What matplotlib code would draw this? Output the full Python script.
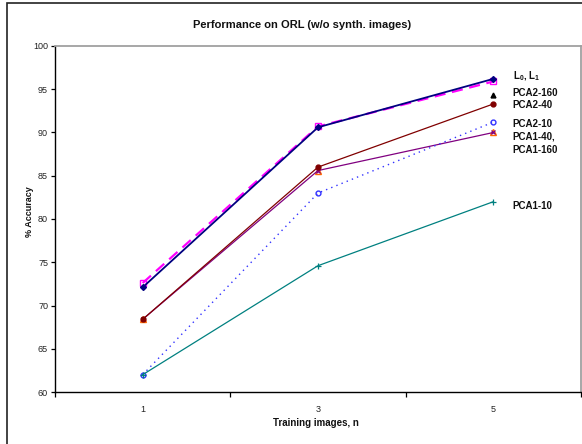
import numpy as np
import matplotlib.pyplot as plt
from matplotlib.patches import Rectangle

plt.rcParams['font.family'] = ['Liberation Sans', 'DejaVu Sans']
plt.rcParams['mathtext.fontset'] = 'custom'
plt.rcParams['mathtext.rm'] = 'Liberation Sans:bold'
plt.rcParams['mathtext.it'] = 'Liberation Sans:bold'
plt.rcParams['mathtext.bf'] = 'Liberation Sans:bold'

# accuracy (%) for 1, 3 and 5 training images per person
n_train = ['1', '3', '5']
acc_L1 = [72.6, 90.7, 95.9]
acc_L0 = [72.1, 90.6, 96.2]
acc_pca2_160 = [np.nan, np.nan, 94.3]
acc_pca2_40 = [68.4, 86.0, 93.3]
acc_pca2_10 = [62.0, 83.0, 91.2]
acc_pca1_160 = [68.4, 85.6, 90.0]
acc_pca1_40 = [68.4, 85.6, 90.0]
acc_pca1_10 = [62.0, 74.6, 82.0]

# text next to the last column and its height on the accuracy scale
end_labels = [r'L$_\mathrm{0}$, L$_\mathrm{1}$', 'PCA2-160', 'PCA2-40', 'PCA2-10',
              'PCA1-40,', 'PCA1-160', 'PCA1-10']
end_label_y = [96.5, 94.6, 93.2, 91.0, 89.5, 88.0, 81.5]

W, H = 582, 444
fig = plt.figure(figsize=(W / 100, H / 100), dpi=100)
fig.patch.set_facecolor('white')
fig.patches.append(Rectangle((6.5 / W, -0.1), 2, 1 - 3.5 / H + 0.1, transform=fig.transFigure,
                             fill=False, edgecolor='#222222', linewidth=1.2))

ax = fig.add_axes([55 / W, 1 - 392 / H, 526 / W, 346 / H])
x = np.arange(1, len(n_train) + 1)

ax.plot(x, acc_L1, color='#FF00FF', lw=1.6, ls=(0, (5, 3)), marker='s', ms=5,
        mfc='none', mec='#FF00FF', mew=1.0)
ax.plot(x, acc_L0, color='#000080', lw=1.3, marker='D', ms=3, mfc='#000080', mec='#000080')
ax.plot(x, acc_pca2_160, ls='none', marker='^', ms=3.5, color='black')
ax.plot(x, acc_pca1_160, ls='none', marker='^', ms=4.5, mfc='none', mec='#FF6600', mew=1.0)
ax.plot(x, acc_pca1_40, color='#800080', lw=0.9, marker='x', ms=3.5, mew=0.9)
ax.plot(x, acc_pca2_40, color='#800000', lw=0.9, marker='o', ms=3.5, mfc='#800000')
ax.plot(x, acc_pca2_10, color='#3333FF', lw=1.0, ls=(0, (1, 3)), marker='o', ms=3.5,
        mfc='none', mec='#3333FF', mew=1.0)
ax.plot(x, acc_pca1_10, color='#008080', lw=0.9, marker='+', ms=4.5, mew=0.9)

ax.set_xlim(0.5, len(n_train) + 0.5)
ax.set_ylim(60, 100)
ax.set_yticks(np.arange(60, 101, 5))
ax.set_xticks(x)
ax.set_xticklabels(n_train)
ax.set_xticks(np.arange(0.5, len(n_train) + 1), minor=True)
ax.tick_params(axis='x', which='major', length=0, pad=9, labelsize=6.5, labelcolor='#222222')
ax.tick_params(axis='x', which='minor', direction='out', length=3.5, width=0.9)
ax.tick_params(axis='y', direction='out', length=3, width=0.9, pad=2, labelsize=6.5,
               labelcolor='#222222')

for side in ['left', 'bottom']:
    ax.spines[side].set_color('black')
    ax.spines[side].set_linewidth(1.0)
for side in ['top', 'right']:
    ax.spines[side].set_color('#A0A0A0')
    ax.spines[side].set_linewidth(1.3)

for txt, yv in zip(end_labels, end_label_y):
    ax.text(3.111, yv, txt, fontsize=7, fontweight='bold', va='center', ha='left',
            color='#111111')

fig.text(302 / W, 1 - 25 / H, 'Performance on ORL (w/o synth. images)', ha='center', va='center',
         fontsize=8, fontweight='bold', color='#111111')
fig.text(316 / W, 1 - 423 / H, 'Training images, n', ha='center', va='center',
         fontsize=7, fontweight='bold', color='#111111')
fig.text(29 / W, 1 - 212 / H, '% Accuracy', ha='center', va='center', rotation=90,
         fontsize=6.5, fontweight='bold', color='#111111')

fig.savefig('out.png', dpi=100)
